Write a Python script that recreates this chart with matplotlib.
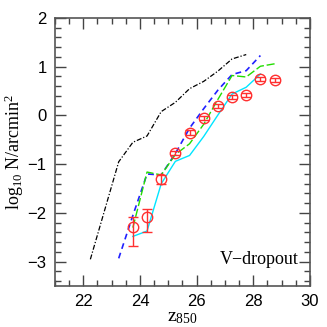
import numpy as np
import matplotlib
matplotlib.use("Agg")
from matplotlib import pyplot as plt
from matplotlib.ticker import MultipleLocator


# model curves (magnitude bins)
x_black = [22.25, 23.25, 23.75, 24.25, 24.75, 25.25, 25.75, 26.25, 26.75, 27.25, 27.75]
y_black = [-2.95, -0.95, -0.55, -0.42, 0.08, 0.27, 0.55, 0.70, 0.91, 1.16, 1.25]

x_blue = [23.25, 23.75, 24.25, 24.75, 25.25, 25.75, 26.25, 26.75, 27.25, 27.75, 28.25]
y_blue = [-2.93, -2.05, -1.20, -1.22, -0.78, -0.26, 0.14, 0.52, 0.84, 0.92, 1.23]

x_green = [23.75, 24.25, 24.75, 25.25, 25.75, 26.25, 26.75, 27.25, 27.75, 28.25, 28.75]
y_green = [-2.30, -1.16, -1.22, -0.80, -0.58, -0.18, 0.33, 0.82, 0.79, 1.01, 1.06]

x_cyan = [23.75, 24.25, 24.75, 25.25, 25.75, 26.25, 26.75, 27.25, 27.75, 28.25]
y_cyan = [-2.48, -2.37, -1.40, -0.94, -0.82, -0.43, 0.01, 0.44, 0.58, 0.85]

# observed counts
x_obs = [23.75, 24.25, 24.75, 25.25, 25.75, 26.25, 26.75, 27.25, 27.75, 28.25, 28.75]
y_obs = [-2.29, -2.09, -1.31, -0.77, -0.35, -0.06, 0.19, 0.38, 0.42, 0.74, 0.72]
err_lo = [0.39, 0.31, 0.09, 0.05, 0.05, 0.04, 0.04, 0.04, 0.04, 0.04, 0.04]
err_hi = [0.20, 0.18, 0.09, 0.05, 0.05, 0.04, 0.04, 0.04, 0.04, 0.04, 0.04]


def main():
	plt.rcParams["mathtext.fontset"] = "custom"
	plt.rcParams["mathtext.rm"] = "Liberation Serif"
	plt.rcParams["mathtext.it"] = "Liberation Serif:italic"
	plt.rcParams["mathtext.default"] = "rm"

	fig = plt.figure(figsize=(3.27, 3.27), dpi=100)
	ax = fig.add_axes([0.168, 0.125, 0.78, 0.82])

	ax.plot(x_black, y_black, color="black", lw=0.9, dashes=(4, 1.5, 1, 1.5))
	ax.plot(x_blue, y_blue, color="#2020ff", lw=1.2, dashes=(3.5, 2.5))
	ax.plot(x_green, y_green, color="#22dd00", lw=1.0, dashes=(6, 2))
	ax.plot(x_cyan, y_cyan, color="#00e5ff", lw=1.0)

	ax.errorbar(x_obs, y_obs, yerr=[err_lo, err_hi], fmt="o", ms=7.5, mfc="none",
		mec="#ff3030", mew=1.0, ecolor="#ff3030", elinewidth=1.0, capsize=3.5, capthick=1.0)

	ax.set_xlim(21, 30)
	ax.set_ylim(-3.5, 2)
	ax.xaxis.set_major_locator(MultipleLocator(2))
	ax.xaxis.set_minor_locator(MultipleLocator(0.5))
	ax.yaxis.set_major_locator(MultipleLocator(1))
	ax.yaxis.set_minor_locator(MultipleLocator(0.2))
	ax.tick_params(which="both", direction="in", top=True, right=True, color="#444444",
		labelsize=12, pad=6)
	ax.tick_params(which="major", length=8, width=1.0)
	ax.tick_params(which="minor", length=4, width=1.0)
	for s in ax.spines.values():
		s.set_color("#555555")
		s.set_linewidth(1.2)
	for lab in ax.get_xticklabels() + ax.get_yticklabels():
		lab.set_family("Liberation Sans")

	ax.set_xlabel(r"z$_{850}$", family="Liberation Serif", fontsize=14, labelpad=0)
	ax.set_ylabel(r"log$_{10}$ N/arcmin$^2$", family="Liberation Serif", fontsize=13, labelpad=1)
	ax.text(29.6, -2.95, "V\u2212dropout", family="Liberation Serif", fontsize=13,
		ha="right", va="center")

	fig.savefig("out.png", dpi=100)


if __name__ == "__main__":
	main()
